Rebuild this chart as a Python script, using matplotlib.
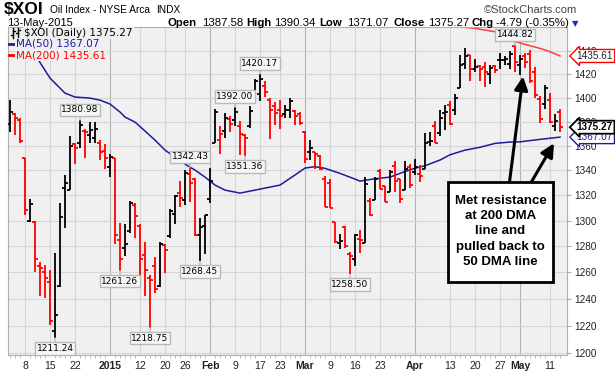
import numpy as np
import pandas as pd
import matplotlib
matplotlib.use('Agg')
import matplotlib.pyplot as plt
from matplotlib.lines import Line2D
from matplotlib.patches import Rectangle
from matplotlib.ticker import NullLocator, FixedLocator

# trading days shown (NYSE holidays removed)
holidays = ['2014-12-25', '2015-01-01', '2015-01-19', '2015-02-16', '2015-04-03']
dates = pd.bdate_range('2014-12-03', '2015-05-13').drop(pd.to_datetime(holidays))

opens = [1378, 1386, 1381, 1350, 1300, 1299, 1265, 1260.5, 1253, 1216,
         1249.5, 1325.5, 1324, 1361, 1362, 1372, 1369, 1366, 1362, 1356,
         1343, 1350, 1284.7, 1279, 1291.8, 1312, 1296, 1273, 1256, 1265,
         1249.5, 1281, 1288, 1305, 1322, 1316, 1337, 1333, 1289, 1296,
         1317, 1362.5, 1365, 1372, 1382, 1381, 1376, 1369, 1376, 1398,
         1403, 1410, 1398, 1393, 1390, 1386, 1390, 1389, 1386, 1371,
         1354.5, 1355, 1352, 1332.7, 1330, 1299, 1282.8, 1294.8, 1273.7, 1270,
         1285.5, 1282.8, 1315.6, 1316.4, 1339.2, 1327.6, 1322.9, 1343.6, 1332.7, 1324,
         1342.5, 1338.6, 1337, 1341, 1363.3, 1376, 1370.6, 1387, 1394.2, 1390,
         1408.5, 1428.9, 1436.4, 1424.7, 1427, 1426, 1419.7, 1427, 1431.7, 1432,
         1428.9, 1444.4, 1427.5, 1436, 1437, 1422, 1399, 1395, 1398, 1376, 1387.58]
highs = [1398, 1387, 1383, 1350, 1316.8, 1299.5, 1268, 1266, 1262, 1275,
         1313.7, 1336, 1368, 1362.5, 1380.98, 1373.5, 1379.5, 1379.5, 1365, 1361,
         1353.6, 1350, 1298, 1297.4, 1315.5, 1313.7, 1297, 1283, 1258, 1272,
         1283, 1281.5, 1308.9, 1320, 1331, 1340, 1342.43, 1334, 1302, 1304.5,
         1342, 1390.6, 1376, 1387, 1385, 1392, 1380.3, 1370, 1392.8, 1415.8,
         1420.17, 1414.4, 1399.7, 1396, 1398.3, 1394.2, 1399.7, 1390, 1388.3, 1372,
         1365, 1355, 1352.6, 1335.5, 1332.7, 1299, 1289.7, 1296, 1275.8, 1289.4,
         1293, 1334.6, 1317.6, 1334.6, 1340.8, 1327.6, 1340, 1347.4, 1333.3, 1347.4,
         1344.8, 1349.1, 1344, 1370.6, 1371.5, 1380.3, 1389.2, 1394.2, 1397, 1403,
         1436.4, 1442.8, 1436.4, 1433, 1428, 1430.3, 1428, 1427.5, 1438.6, 1435.8,
         1440, 1444.82, 1436.4, 1438, 1441, 1426, 1401, 1411, 1403.5, 1386.5, 1390.34]
lows = [1371.5, 1369, 1362.5, 1304.7, 1299, 1260.5, 1242, 1240.5, 1221, 1211.24,
        1249, 1294, 1324, 1345, 1358, 1350, 1362.5, 1362, 1348, 1341,
        1334.5, 1282, 1261.26, 1272.4, 1290.6, 1286.7, 1257, 1242, 1218.75, 1244.5,
        1249, 1259.5, 1286.7, 1297, 1311, 1312.5, 1314.5, 1288, 1268.45, 1274,
        1314, 1362.5, 1353, 1366.5, 1371, 1376, 1352.5, 1351.36, 1374.8, 1397,
        1397, 1400.6, 1365.2, 1377.5, 1373.4, 1383, 1383, 1377.5, 1377.5, 1345.6,
        1348.5, 1341, 1340, 1310.7, 1309.6, 1282.8, 1277.6, 1278.4, 1258.5, 1264.5,
        1275, 1282.8, 1303.3, 1316.4, 1324.9, 1314.5, 1322.9, 1322.4, 1313.7, 1324,
        1325.5, 1335.9, 1330.5, 1340.8, 1359.7, 1362.5, 1368, 1372.6, 1377, 1385.8,
        1408.5, 1424.7, 1414.2, 1422, 1414.2, 1409.4, 1411.3, 1420.6, 1424.7, 1427.5,
        1424.7, 1421.4, 1419, 1425, 1412.5, 1399.7, 1379, 1390.5, 1379, 1372.4, 1371.07]
closes = [1388, 1383, 1364, 1308.6, 1313, 1270, 1263, 1255.5, 1223.5, 1228,
          1302.6, 1330, 1360, 1358, 1377, 1371, 1373, 1374, 1355, 1350,
          1351, 1288.5, 1270, 1282, 1313.7, 1303.4, 1270, 1262, 1254, 1247.5,
          1282, 1277, 1307.7, 1319, 1317.7, 1338, 1330, 1288.5, 1295, 1304,
          1331.5, 1388, 1370, 1383, 1378, 1388, 1370, 1366, 1389, 1414.5,
          1416, 1405, 1390, 1387, 1385, 1390, 1397, 1385, 1379, 1349,
          1358.3, 1353, 1341, 1311, 1310, 1283, 1284, 1280, 1272.4, 1289,
          1284.7, 1328.6, 1304.7, 1332.7, 1325, 1315, 1338.6, 1331, 1317, 1340.8,
          1328, 1342.7, 1335.8, 1362, 1364, 1362.5, 1383, 1388, 1378, 1399.7,
          1427.5, 1436, 1424.7, 1426, 1424, 1422, 1425, 1423.5, 1432.5, 1433,
          1437, 1430, 1433, 1430, 1414, 1402, 1382, 1408, 1379.3, 1380.06, 1375.27]

# moving averages (bar index, value)
ma50_idx = [3, 6, 8, 11, 13, 16, 18, 20, 22, 23, 25, 27, 29, 31, 33, 35, 37, 39, 41, 43,
            46, 49, 52, 54, 57, 59, 61, 63, 66, 69, 70, 73, 76, 78, 80, 81, 83, 86, 88,
            91, 94, 97, 100, 102, 106, 110]
ma50 = [1452, 1430, 1416.6, 1403.8, 1400.5, 1399.6, 1397.9, 1394.6, 1387.9, 1383.7,
        1379.5, 1372.1, 1364.6, 1356.4, 1350.7, 1345.0, 1340.2, 1334.5, 1328.1, 1324.1,
        1321.7, 1324.1, 1326.5, 1328.1, 1336.2, 1341.8, 1342.9, 1341.6, 1337.5, 1332.9,
        1331.3, 1333.2, 1334.5, 1337.5, 1340.4, 1341.6, 1343.7, 1348.3, 1352.6,
        1356.4, 1358.7, 1361.9, 1363.0, 1363.2, 1365.2, 1367.07]
ma200_idx = [84, 87, 93, 97, 101, 104, 106, 108, 110]
ma200 = [1465, 1462.5, 1459.7, 1456.7, 1448.1, 1444.5, 1442.2, 1439.3, 1435.61]

peak_bars = [14, 36, 45, 50, 101]
trough_bars = [9, 22, 28, 38, 47, 68]

tick_dates = ['2014-12-08', '2014-12-15', '2014-12-22', '2015-01-02', '2015-01-12',
              '2015-01-20', '2015-01-26', '2015-02-02', '2015-02-09', '2015-02-17',
              '2015-02-23', '2015-03-02', '2015-03-09', '2015-03-16', '2015-03-23',
              '2015-04-01', '2015-04-13', '2015-04-20', '2015-04-27', '2015-05-01',
              '2015-05-11']
tick_labels = ['8', '15', '22', '2015', '12', '20', '26', 'Feb', '9', '17', '23', 'Mar',
               '9', '16', '23', 'Apr', '13', '20', '27', 'May', '11']

W, H = 615, 373
def fx(x):
    return x / W
def fy(y):
    return 1 - y / H

x = np.arange(len(dates))
o = np.array(opens); h = np.array(highs); l = np.array(lows); c = np.array(closes)
up = np.concatenate([[True], c[1:] >= c[:-1]])
colors = np.where(up, 'black', '#ff0000')

fig = plt.figure(figsize=(W / 100, H / 100), dpi=100)
ax = fig.add_axes([fx(8), 18 / H, 559 / W, 328 / H])
ax.set_facecolor('#f0f0f0')

ax.set_yscale('log')
ax.set_ylim(1198.8, 1460.9)
ax.set_xlim(-0.4, 111.4)

yt = list(range(1200, 1441, 20))
ax.set_yticks(yt, labels=[str(v) for v in yt])
ax.yaxis.set_minor_locator(NullLocator())
ax.yaxis.tick_right()
ax.grid(axis='y', color='#d6d6d6', lw=0.8)

tick_pos = [dates.get_loc(pd.Timestamp(d)) for d in tick_dates]
bold = [not lab.isdigit() or lab == '2015' for lab in tick_labels]
for p, b in zip(tick_pos, bold):
    ax.axvline(p, color='#b2b2b2' if b else '#d6d6d6', lw=0.8, zorder=0.5)
ax.set_xticks(tick_pos, labels=tick_labels)
for t, b in zip(ax.get_xticklabels(), bold):
    t.set_fontweight('bold' if b else 'normal')
ax.xaxis.set_minor_locator(FixedLocator(x))

ax.tick_params(axis='x', which='major', length=0, pad=4, labelsize=7.5, labelcolor='#222222')
ax.tick_params(axis='x', which='minor', length=2, color='#a8b4a8')
ax.tick_params(axis='y', length=3, pad=2, labelsize=7.2, labelcolor='#222222', color='#a8b4a8')
for lab in ax.get_xticklabels() + ax.get_yticklabels():
    lab.set_fontfamily('Liberation Sans')
for s in ax.spines.values():
    s.set_color('#a8b4a8')

# OHLC bars
ax.vlines(x, l, h, colors=colors, lw=1.3, zorder=3)
ax.hlines(o, x - 0.6, x, colors=colors, lw=1.3, zorder=3)
ax.hlines(c, x, x + 0.6, colors=colors, lw=1.3, zorder=3)

ax.plot(ma50_idx, ma50, color='#1c1c9c', lw=1.1, zorder=2)
ax.plot(ma200_idx, ma200, color='#ff3c3c', lw=1.1, zorder=2)

# high/low labels
lab_box = dict(boxstyle='square,pad=0.2', fc='#f6f6f6', ec='#b4bcb4', lw=1)
lab_arrow = dict(arrowstyle='-', color='#b4bcb4', lw=1, shrinkA=0, shrinkB=0)
for i in peak_bars:
    ax.annotate(f'{highs[i]:.2f}', xy=(i, highs[i]), xytext=(0, 7.5), textcoords='offset points',
                ha='center', va='center', fontsize=6.5, family='DejaVu Sans', bbox=lab_box,
                arrowprops=lab_arrow, zorder=4)
for i in trough_bars:
    ax.annotate(f'{lows[i]:.2f}', xy=(i, lows[i]), xytext=(0, -7.5), textcoords='offset points',
                ha='center', va='center', fontsize=6.5, family='DejaVu Sans', bbox=lab_box,
                arrowprops=lab_arrow, zorder=4)

# last value boxes on the right axis
for val, ec, wt, tc in [(ma200[-1], '#ff0000', 'normal', '#222222'),
                        (ma50[-1], '#1c1c9c', 'normal', '#1c1c9c'),
                        (closes[-1], 'black', 'bold', 'black')]:
    ax.annotate(f'{val:.2f}', xy=(1, val), xycoords=('axes fraction', 'data'),
                xytext=(7, 0), textcoords='offset points', ha='left', va='center',
                fontsize=7.2, fontweight=wt, color=tc, family='Liberation Sans',
                bbox=dict(boxstyle='larrow,pad=0.15', fc='white', ec=ec,
                          lw=1.3 if wt == 'bold' else 1),
                annotation_clip=False, zorder=10)

# comment box and arrows
arr = dict(arrowstyle='-|>,head_length=0.8,head_width=0.4', color='black', lw=2.2,
           mutation_scale=10, shrinkA=0, shrinkB=0)
ax.annotate('', xy=(102.6, 1418), xytext=(fx(509), fy(186)), textcoords='figure fraction',
            arrowprops=arr, annotation_clip=False, zorder=5)
ax.annotate('', xy=(108.8, 1362), xytext=(fx(529), fy(186)), textcoords='figure fraction',
            arrowprops=arr, annotation_clip=False, zorder=5)
fig.add_artist(Rectangle((fx(448), fy(282)), 105 / W, 100 / H, transform=fig.transFigure,
                         fc='white', ec='black', lw=2, zorder=2))
fig.text(fx(500.5), fy(231.5), 'Met resistance\nat 200 DMA\nline and\npulled back to\n50 DMA line',
         ha='center', va='center', fontsize=9.5, fontweight='bold', family='Liberation Sans',
         linespacing=1.36, zorder=3)

# legend inside the plot
leg_bg = dict(boxstyle='square,pad=0.1', fc='#f0f0f0', ec='none')
fig.text(fx(24), fy(33), '$XOI (Daily) 1375.27', fontsize=7.5, va='center', color='black',
         bbox=leg_bg)
fig.text(fx(16), fy(44), 'MA(50) 1367.07', fontsize=7.5, va='center', color='#1c1c9c', bbox=leg_bg)
fig.text(fx(16), fy(55), 'MA(200) 1435.61', fontsize=7.5, va='center', color='#ff0000', bbox=leg_bg)
fig.add_artist(Line2D([fx(9), fx(15)], [fy(44), fy(44)], color='#1c1c9c', lw=2))
fig.add_artist(Line2D([fx(9), fx(15)], [fy(55), fy(55)], color='#ff0000', lw=2))
for xi, oy, cy in [(13, 35, 31), (18, 33, 30)]:
    fig.add_artist(Line2D([fx(xi), fx(xi)], [fy(28), fy(38)], color='black', lw=1))
    fig.add_artist(Line2D([fx(xi - 2), fx(xi)], [fy(oy), fy(oy)], color='black', lw=1))
    fig.add_artist(Line2D([fx(xi), fx(xi + 2)], [fy(cy), fy(cy)], color='black', lw=1))

# header
fig.text(fx(4), fy(10), '$XOI', fontsize=12.5, fontweight='bold', va='center',
         family='Liberation Sans')
fig.text(fx(50), fy(10), 'Oil Index - NYSE Arca', fontsize=7.3, va='center', family='Liberation Sans')
fig.text(fx(156), fy(10), 'INDX', fontsize=7.3, va='center', family='Liberation Sans')
fig.text(fx(577), fy(10), '\u00a9StockCharts.com', fontsize=8, va='center', ha='right',
         color='#444444', family='Liberation Sans')
fig.text(fx(7), fy(23), '13-May-2015', fontsize=8, va='center', family='Liberation Sans')
hdr = [(167, 'Open', True), (202, '1387.58', False), (246, 'High', True), (274, '1390.34', False),
       (319, 'Low', True), (347, '1371.07', False), (393, 'Close', True), (428, '1375.27', False),
       (472, 'Chg', True), (496, '-4.79 (-0.35%)', False)]
for xp, s, b in hdr:
    fig.text(fx(xp), fy(23), s, fontsize=8.2, va='center', family='Liberation Sans',
             fontweight='bold' if b else 'normal')
fig.text(fx(572), fy(24), '\u25bc', fontsize=6, va='center', color='#1030d0')

fig.savefig('out.png', dpi=100)
